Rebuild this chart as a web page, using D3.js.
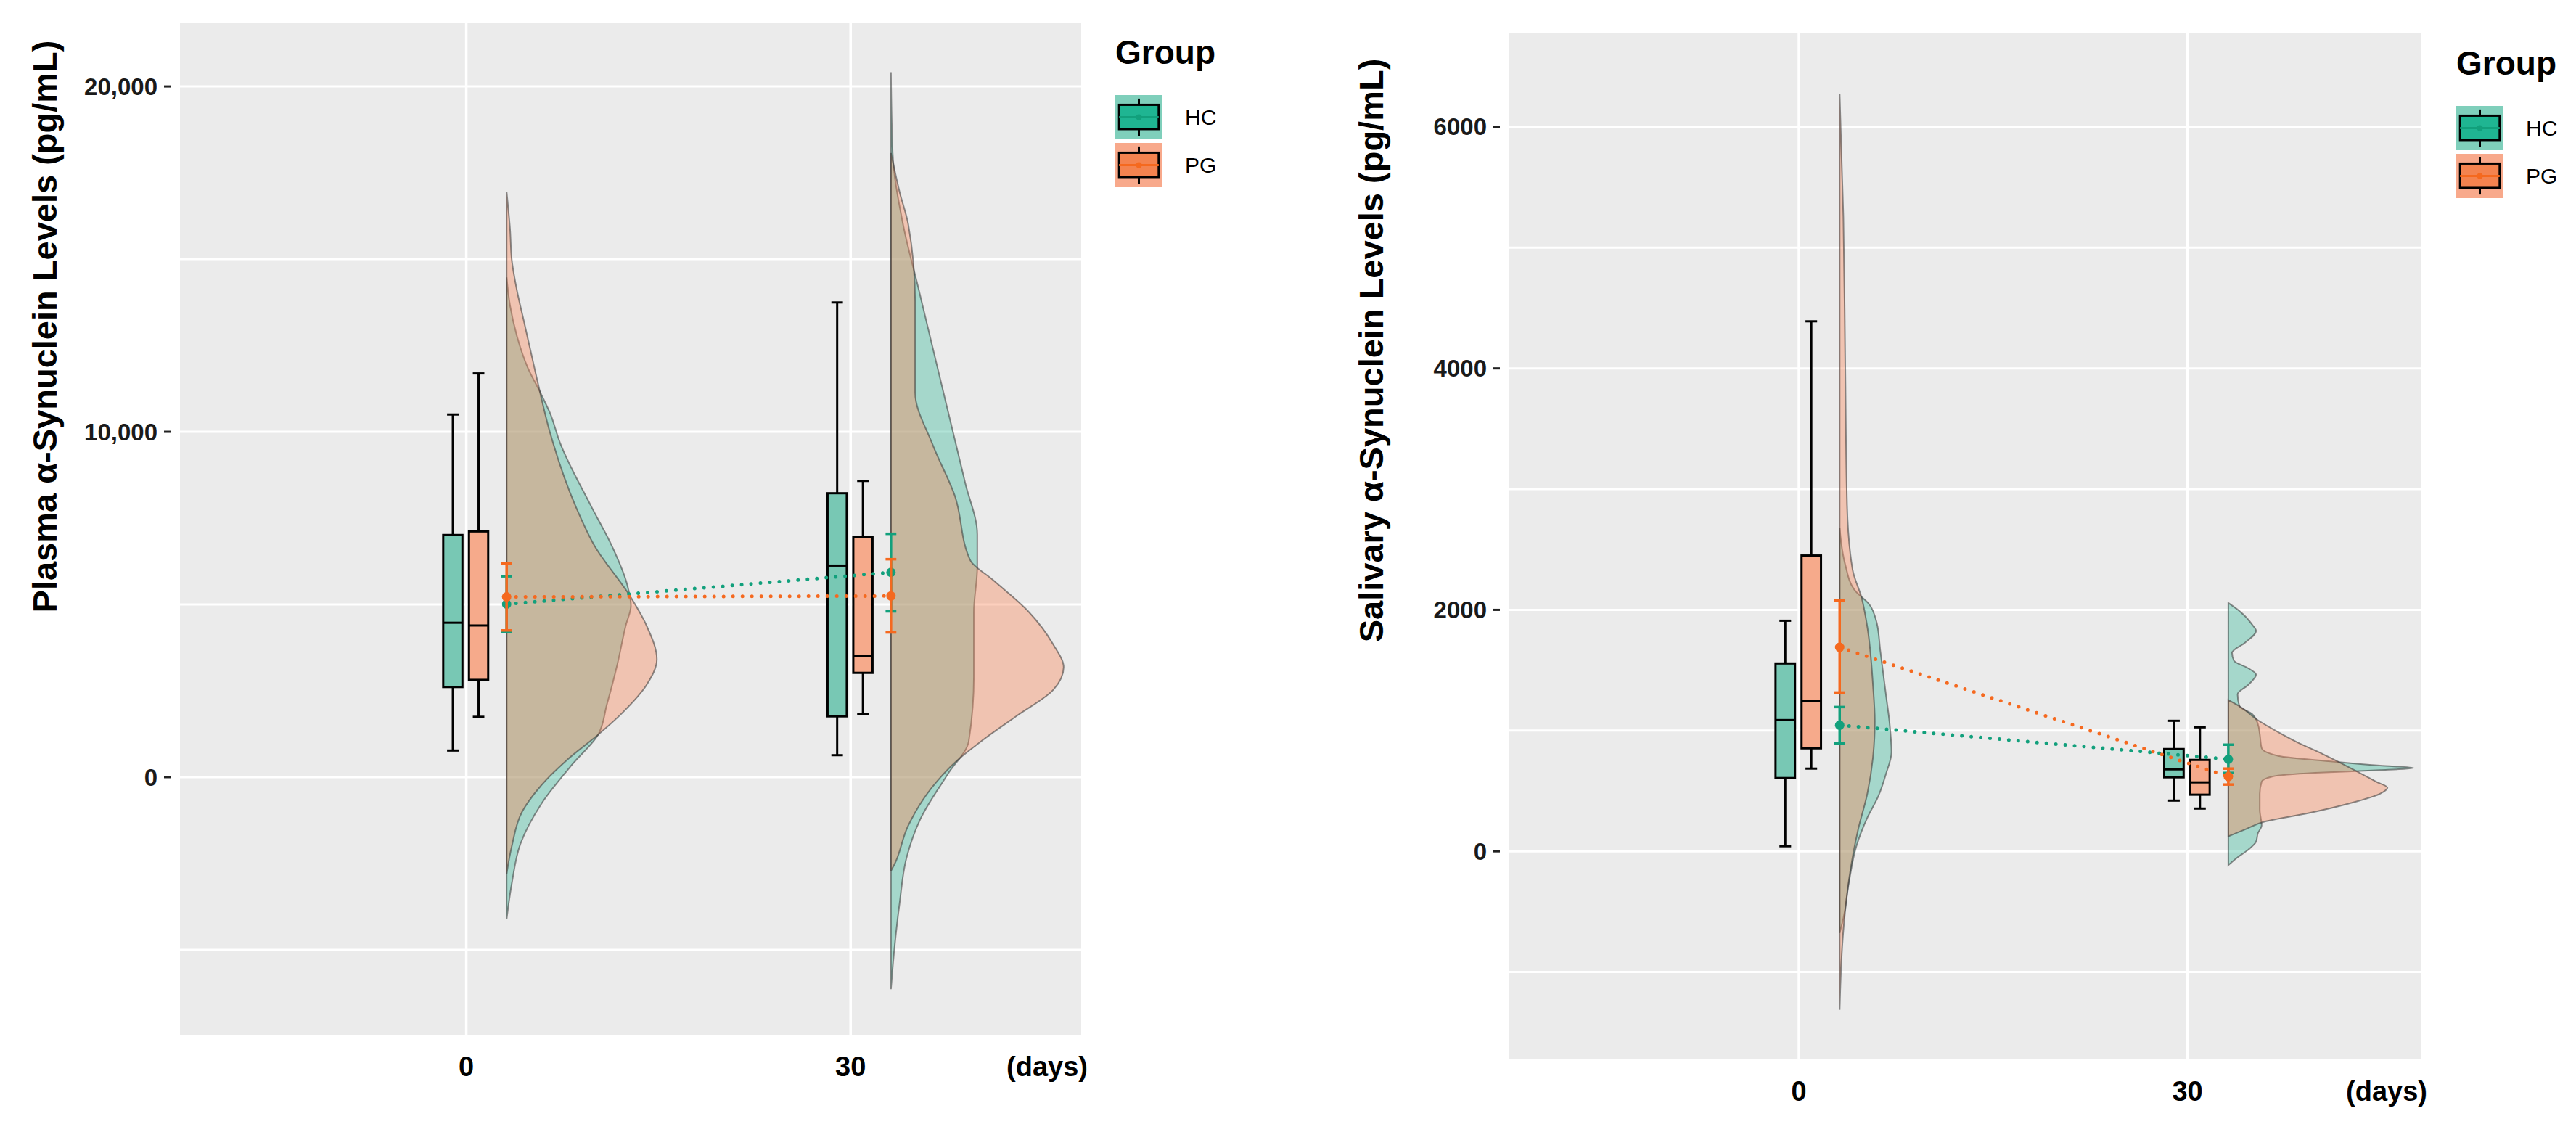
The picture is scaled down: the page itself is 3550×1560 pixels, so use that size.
<!DOCTYPE html>
<html>
<head>
<meta charset="utf-8">
<script src="https://cdn.jsdelivr.net/npm/d3@7"></script>
<style>
  body { margin: 0; background: #fff; }
  svg { display: block; }
  text { font-family: "Liberation Sans", Arial, Helvetica, sans-serif; }
</style>
</head>
<body>
<svg id="chart" width="3550" height="1560"></svg>
<script>
const days = [0, 30];
const groups = ["HC", "PG"];

// box stats per day: [lower whisker, Q1, median, Q3, upper whisker]
const plasmaHC_box = [[770, 2609, 4471, 7011, 10500], [635, 1760, 6125, 8221, 13745]];
const plasmaPG_box = [[1747, 2816, 4391, 7115, 11690], [1825, 3020, 3510, 6960, 8577]];
// mean, lower, upper
const plasmaHC_mean = [[5010, 4207, 5816], [5930, 4800, 7045]];
const plasmaPG_mean = [[5218, 4248, 6188], [5245, 4190, 6310]];

// half-violin densities [value, relative density]
const plasmaHC_dens0 = [[-4115,0],[-3080,.03],[-1931,.08],[-782,.2],[368,.38],[1230,.53],[2092,.58],[3241,.64],[4390,.69],[4966,.72],[5540,.7],[6690,.61],[7839,.49],[9673,.31],[10558,.25],[11089,.2],[11885,.12],[12770,.06],[13655,.02],[14469,0]];
const plasmaPG_dens0 = [[-2800,0],[-2000,.03],[-1000,.09],[-300,.19],[500,.35],[1230,.53],[1862,.67],[2667,.81],[3413,.87],[4390,.81],[5200,.72],[6690,.51],[7839,.4],[10000,.25],[11434,.18],[12319,.14],[13204,.1],[14088,.06],[14973,.03],[15858,.02],[16947,0]];
const plasmaHC_dens30 = [[-6142,0],[-4963,.02],[-3652,.05],[-2341,.09],[-1217,.17],[94,.33],[1030,.45],[2903,.48],[4775,.48],[6086,.5],[7022,.5],[8521,.43],[10393,.34],[12266,.25],[14139,.16],[16011,.07],[18071,.01],[20412,0]];
const plasmaPG_dens30 = [[-2715,0],[-2528,.02],[-1404,.1],[-281,.24],[468,.38],[1030,.52],[1779,.73],[2528,.94],[3183,1],[3839,.94],[4775,.8],[5712,.59],[6273,.46],[8146,.37],[9644,.24],[11142,.14],[12640,.14],[13764,.14],[16011,.1],[16947,.05],[18071,0]];

const salivaHC_box = [[42, 607, 1087, 1556, 1910], [420, 613, 679, 847, 1081]];
const salivaPG_box = [[685, 853, 1243, 2450, 4390], [354, 469, 571, 757, 1027]];
const salivaHC_mean = [[1045, 895, 1195], [763, 649, 883]];
const salivaPG_mean = [[1690, 1315, 2078], [619, 553, 685]];

const salivaHC_dens0 = [[-677,0],[-557,.02],[-258,.05],[41,.09],[280,.15],[460,.21],[640,.25],[820,.28],[1059,.27],[1298,.25],[1657,.22],[1896,.2],[2046,.16],[2166,.08],[2376,.03],[2682,0]];
const salivaPG_dens0 = [[-1313,0],[-656,.02],[-237,.05],[181,.1],[480,.15],[778,.18],[1077,.19],[1376,.18],[1854,.15],[2093,.12],[2332,.07],[2868,.04],[4063,.03],[5258,.02],[6276,0]];
const salivaHC_dens30 = [[-115,0],[-50,.05],[16,.11],[80,.15],[150,.16],[214,.18],[345,.17],[477,.17],[576,.18],[620,.24],[650,.47],[672,.82],[691,1],[710,.82],[740,.59],[790,.27],[856,.18],[971,.17],[1053,.16],[1136,.13],[1202,.06],[1300,.05],[1382,.11],[1464,.15],[1514,.11],[1580,.03],[1645,.02],[1728,.09],[1827,.15],[1876,.13],[1990,.06],[2057,0]];
const salivaPG_dens30 = [[124,0],[181,.09],[247,.2],[312,.42],[395,.65],[477,.82],[527,.86],[576,.8],[674,.68],[806,.51],[905,.37],[1004,.25],[1086,.16],[1202,.06],[1254,0]];

const colLine = { HC: "#12a07c", PG: "#f5691f" };
const colBox = { HC: "#78c8b4", PG: "#f6aa8b" };
const colDens = { HC: "#3cb89b", PG: "#f8865a" };
const colKeyBg = { HC: "#7fcfbb", PG: "#f8a98b" };
const colKeyBox = { HC: "#1fb592", PG: "#f4834f" };

const svg = d3.select("#chart");

const panels = [
  {
    left: 248, right: 1490, top: 32, bottom: 1426,
    yDomain: [-7460, 21830], gridTicks: d3.range(-5000, 20001, 5000), labelTicks: [0, 10000, 20000],
    fmt: d3.format(","), densMax: 238,
    title: "Plasma α-Synuclein Levels (pg/mL)", titleX: 62, titleY: 450,
    box: { HC: plasmaHC_box, PG: plasmaPG_box },
    mean: { HC: plasmaHC_mean, PG: plasmaPG_mean },
    dens: { HC: [plasmaHC_dens0, plasmaHC_dens30], PG: [plasmaPG_dens0, plasmaPG_dens30] },
    legendX: 1537, legendY: 32
  },
  {
    left: 2080, right: 3336, top: 45, bottom: 1460,
    yDomain: [-1724, 6781], gridTicks: d3.range(-1000, 6001, 1000), labelTicks: [0, 2000, 4000, 6000],
    fmt: d3.format("d"), densMax: 255,
    title: "Salivary α-Synuclein Levels (pg/mL)", titleX: 1890, titleY: 483,
    box: { HC: salivaHC_box, PG: salivaPG_box },
    mean: { HC: salivaHC_mean, PG: salivaPG_mean },
    dens: { HC: [salivaHC_dens0, salivaHC_dens30], PG: [salivaPG_dens0, salivaPG_dens30] },
    legendX: 3385, legendY: 47
  }
];

const boxOffset = { HC: -0.035, PG: 0.032 };
const meanOffset = 0.105;
const boxW = 0.05, capW = 0.03, errCapW = 0.028;

function drawPanel(p) {
  const x = d3.scaleLinear().domain([0.255, 2.6]).range([p.left, p.right]);
  const y = d3.scaleLinear().domain(p.yDomain).range([p.bottom, p.top]);
  const w = d3.scaleLinear().domain([0, 1]).range([0, p.densMax]);
  const pos = d => 1 + d / 30;
  const g = svg.append("g");

  g.append("rect")
    .attr("x", p.left).attr("y", p.top)
    .attr("width", p.right - p.left).attr("height", p.bottom - p.top)
    .attr("fill", "#ebebeb");

  g.selectAll(".hgrid").data(p.gridTicks).join("line")
    .attr("x1", p.left).attr("x2", p.right)
    .attr("y1", d => y(d)).attr("y2", d => y(d))
    .attr("stroke", "#fff").attr("stroke-width", 3);

  g.selectAll(".vgrid").data(days).join("line")
    .attr("x1", d => x(pos(d))).attr("x2", d => x(pos(d)))
    .attr("y1", p.top).attr("y2", p.bottom)
    .attr("stroke", "#fff").attr("stroke-width", 3.5);

  // y tick labels and small ticks
  g.selectAll(".ylab").data(p.labelTicks).join("text")
    .attr("x", p.left - 31).attr("y", d => y(d)).attr("dy", "0.35em")
    .attr("text-anchor", "end").attr("font-size", 33).attr("font-weight", "bold")
    .attr("fill", "#1a1a1a")
    .text(d => p.fmt(d));
  g.selectAll(".ytick").data(p.labelTicks).join("line")
    .attr("x1", p.left - 22).attr("x2", p.left - 13)
    .attr("y1", d => y(d)).attr("y2", d => y(d))
    .attr("stroke", "#222").attr("stroke-width", 3);

  g.append("text")
    .attr("transform", `translate(${p.titleX},${p.titleY}) rotate(-90)`)
    .attr("text-anchor", "middle").attr("dy", "0.35em")
    .attr("font-size", 47).attr("font-weight", "bold").attr("fill", "#000")
    .text(p.title);

  // x labels
  g.selectAll(".xlab").data(days).join("text")
    .attr("x", d => x(pos(d))).attr("y", p.bottom + 57)
    .attr("text-anchor", "middle").attr("font-size", 38).attr("font-weight", "bold")
    .text(d => d);
  g.append("text")
    .attr("x", p.right + 9).attr("y", p.bottom + 57)
    .attr("text-anchor", "end").attr("font-size", 38).attr("font-weight", "bold")
    .text("(days)");

  // half violins
  groups.forEach(grp => {
    days.forEach((d, i) => {
      const base = x(pos(d) + meanOffset);
      const area = d3.area()
        .y(v => y(v[0]))
        .x0(base)
        .x1(v => base + w(v[1]))
        .curve(d3.curveMonotoneY);
      g.append("path")
        .attr("d", area(p.dens[grp][i]))
        .attr("fill", colDens[grp]).attr("fill-opacity", 0.4)
        .attr("stroke", "#333").attr("stroke-opacity", 0.55).attr("stroke-width", 2);
    });
  });

  // boxplots
  groups.forEach(grp => {
    days.forEach((d, i) => {
      const s = p.box[grp][i];
      const cx = x(pos(d) + boxOffset[grp]);
      const half = (x(boxW) - x(0)) / 2;
      const capHalf = (x(capW) - x(0)) / 2;
      const bg = g.append("g").attr("stroke", "#000").attr("stroke-width", 3);
      bg.append("line").attr("x1", cx).attr("x2", cx).attr("y1", y(s[0])).attr("y2", y(s[1]));
      bg.append("line").attr("x1", cx).attr("x2", cx).attr("y1", y(s[3])).attr("y2", y(s[4]));
      bg.append("line").attr("x1", cx - capHalf).attr("x2", cx + capHalf).attr("y1", y(s[0])).attr("y2", y(s[0]));
      bg.append("line").attr("x1", cx - capHalf).attr("x2", cx + capHalf).attr("y1", y(s[4])).attr("y2", y(s[4]));
      bg.append("rect")
        .attr("x", cx - half).attr("width", 2 * half)
        .attr("y", y(s[3])).attr("height", y(s[1]) - y(s[3]))
        .attr("fill", colBox[grp]);
      bg.append("line").attr("x1", cx - half).attr("x2", cx + half).attr("y1", y(s[2])).attr("y2", y(s[2]));
    });
  });

  // dotted connecting lines
  const line = d3.line().x(v => x(pos(v[0]) + meanOffset)).y(v => y(v[1]));
  groups.forEach(grp => {
    g.append("path")
      .attr("d", line(days.map((d, i) => [d, p.mean[grp][i][0]])))
      .attr("fill", "none").attr("stroke", colLine[grp]).attr("stroke-width", 5)
      .attr("stroke-linecap", "round").attr("stroke-dasharray", "0 13");
  });

  // error bars and means
  groups.forEach(grp => {
    days.forEach((d, i) => {
      const m = p.mean[grp][i];
      const cx = x(pos(d) + meanOffset);
      const ch = (x(errCapW) - x(0)) / 2;
      const eg = g.append("g").attr("stroke", colLine[grp]).attr("stroke-width", 3.5);
      eg.append("line").attr("x1", cx).attr("x2", cx).attr("y1", y(m[1])).attr("y2", y(m[2]));
      eg.append("line").attr("x1", cx - ch).attr("x2", cx + ch).attr("y1", y(m[1])).attr("y2", y(m[1]));
      eg.append("line").attr("x1", cx - ch).attr("x2", cx + ch).attr("y1", y(m[2])).attr("y2", y(m[2]));
      g.append("circle").attr("cx", cx).attr("cy", y(m[0])).attr("r", 6.5).attr("fill", colLine[grp]);
    });
  });

  // legend
  const lg = svg.append("g").attr("transform", `translate(${p.legendX},${p.legendY})`);
  lg.append("text").attr("x", 0).attr("y", 56).attr("font-size", 46).attr("font-weight", "bold").text("Group");
  const kw = 65, kh = 61;
  groups.forEach((grp, i) => {
    const ky = 99 + i * 66;
    const k = lg.append("g").attr("transform", `translate(0,${ky})`);
    k.append("rect").attr("width", kw).attr("height", kh).attr("fill", colKeyBg[grp]);
    k.append("line").attr("x1", kw / 2).attr("x2", kw / 2).attr("y1", kh * 0.08).attr("y2", kh * 0.92)
      .attr("stroke", "#000").attr("stroke-width", 3);
    k.append("rect").attr("x", kw * 0.08).attr("y", kh * 0.22).attr("width", kw * 0.84).attr("height", kh * 0.55)
      .attr("fill", colKeyBox[grp]).attr("stroke", "#000").attr("stroke-width", 3);
    k.append("line").attr("x1", kw * 0.08).attr("x2", kw * 0.92).attr("y1", kh * 0.5).attr("y2", kh * 0.5)
      .attr("stroke", colLine[grp]).attr("stroke-width", 3);
    k.append("circle").attr("cx", kw / 2).attr("cy", kh * 0.5).attr("r", 4).attr("fill", colLine[grp]);
    lg.append("text").attr("x", 96).attr("y", ky + kh / 2).attr("dy", "0.35em")
      .attr("font-size", 30).text(grp);
  });
}

panels.forEach(drawPanel);
</script>
</body>
</html>
